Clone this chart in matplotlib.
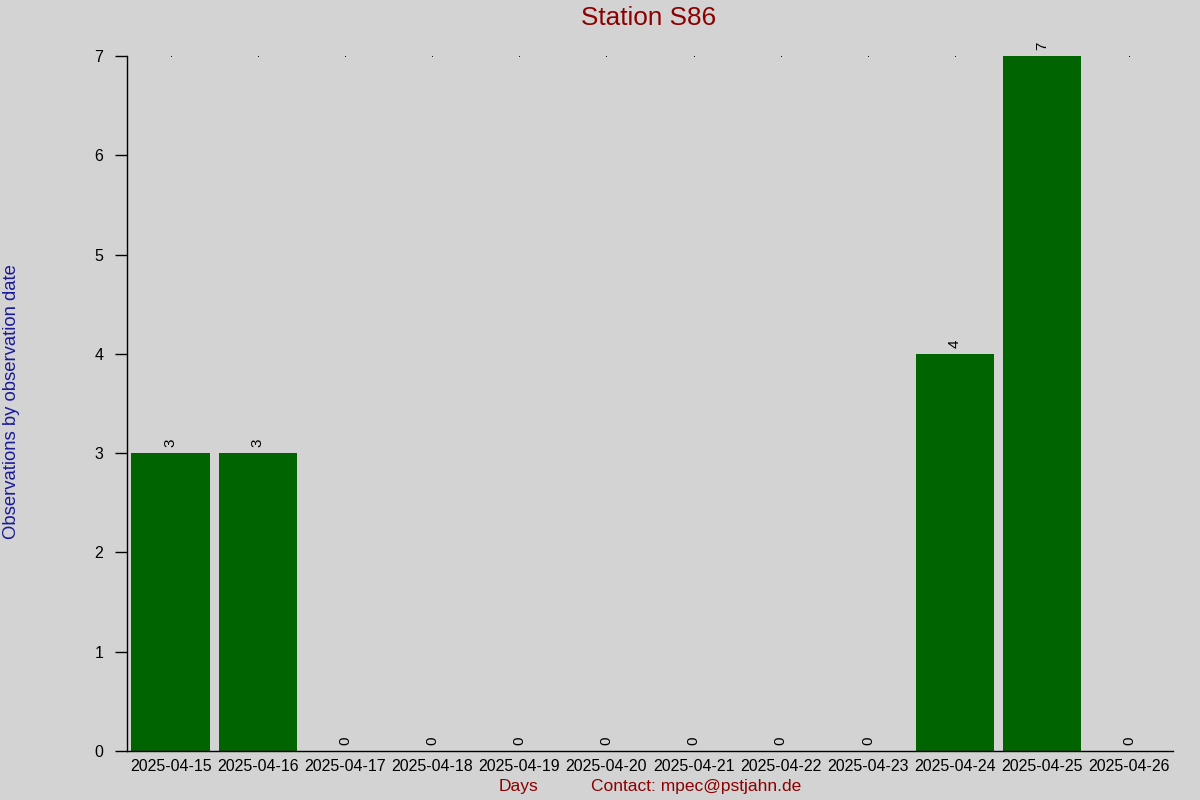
import matplotlib
matplotlib.use("Agg")
import matplotlib.pyplot as plt
import numpy as np

days = ["2025-04-15", "2025-04-16", "2025-04-17", "2025-04-18", "2025-04-19",
        "2025-04-20", "2025-04-21", "2025-04-22", "2025-04-23", "2025-04-24",
        "2025-04-25", "2025-04-26"]
counts = [3, 3, 0, 0, 0, 0, 0, 0, 0, 4, 7, 0]
yticks = [0, 1, 2, 3, 4, 5, 6, 7]

plt.rcParams['font.family'] = ['Liberation Sans', 'DejaVu Sans']

bg = '#d3d3d3'
fig = plt.figure(figsize=(12, 8), dpi=100, facecolor=bg)
ax = fig.add_axes([127/1200, 49/800, (1173-127)/1200, (751-56)/800])
ax.set_facecolor(bg)

x = np.arange(len(days))
ax.bar(x, counts, width=0.9, color='#006400', zorder=2)
ax.set_xlim(-0.5, len(days) - 0.5)
ax.set_ylim(0, max(yticks))

for xi, v in zip(x, counts):
    ax.annotate(str(v), (xi, v), xytext=(0, 4.5), textcoords='offset points',
                rotation=90, ha='center', va='bottom', fontsize=11, color='black')

# tiny dots at top of each category (behind bars)
ax.plot(x, [max(yticks)] * len(x), linestyle='none', marker='s', markersize=0.6,
        markeredgewidth=0, color='black', clip_on=False, zorder=1)

ax.set_xticks(x)
ax.set_xticklabels(days, fontsize=11.5)
ax.set_yticks(yticks)
ax.set_yticklabels([str(t) for t in yticks], fontsize=11.5)
ax.tick_params(axis='x', length=0, pad=6)
ax.tick_params(axis='y', length=9, width=1, pad=8, direction='out')

for s in ['top', 'right']:
    ax.spines[s].set_visible(False)
for s in ['left', 'bottom']:
    ax.spines[s].set_color('black')
    ax.spines[s].set_linewidth(1)
    ax.spines[s].set_zorder(3)

fig.text(649/1200, 1 - 18/800, "Station S86", ha='center', va='center',
         fontsize=18.8, color='#8b0000')
fig.text(518/1200, 1 - 786/800, "Days", ha='center', va='center',
         fontsize=12.5, color='#8b0000')
fig.text(696/1200, 1 - 786/800, "Contact: mpec@pstjahn.de", ha='center', va='center',
         fontsize=12.5, color='#8b0000')
fig.text(12/1200, 1 - 402/800, "Observations by observation date", ha='center',
         va='center', rotation=90, fontsize=13.3, color='#1a1a9a')

fig.savefig("out.png", dpi=100, facecolor=bg)
